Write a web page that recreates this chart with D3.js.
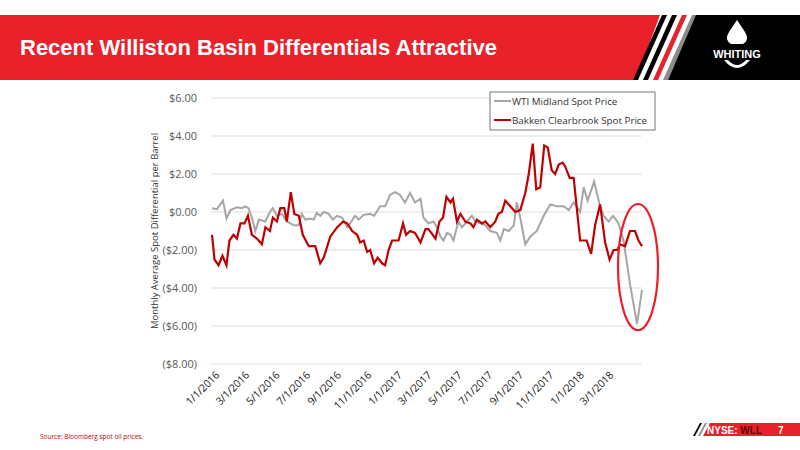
<!DOCTYPE html>
<html><head><meta charset="utf-8">
<script src="https://cdn.jsdelivr.net/npm/d3@7"></script>
<style>body{margin:0;background:#fff}svg{display:block}</style>
</head><body>
<script>
// Data: days since 1/1/2016 and differential ($/bbl)
const wtiDays = [0,10,22,29,37,50,60,67,73,80,87,94,107,116,122,130,140,150,164,174,180,187,197,204,210,217,224,234,242,251,261,271,277,287,294,304,317,325,337,347,357,367,377,387,397,407,418,424,434,444,451,458,464,471,478,484,494,501,511,521,528,538,548,558,571,578,585,595,605,611,618,628,638,651,665,678,691,705,715,725,738,745,753,766,777,785,795,804,815,825,838,852,862];
const wtiVals = [0.2,0.15,0.6,-0.35,0.1,0.25,0.2,0.3,0.2,-0.3,-1.0,-0.4,-0.5,0,0.2,-0.2,-0.1,-0.5,-0.7,-0.7,-0.1,-0.4,-0.35,-0.4,-0.05,-0.2,0,-0.1,-0.4,-0.2,-0.3,-0.8,-0.6,-0.2,-0.4,-0.15,-0.1,-0.2,0.3,0.3,0.9,1.05,0.9,0.5,1.0,0.5,0.7,-0.3,-0.6,-0.5,-0.8,-1.3,-1.5,-1.1,-1.2,-1.5,-0.5,-0.8,-0.5,-0.2,-0.5,-0.6,-0.7,-1.0,-1.1,-1.5,-0.9,-1.0,-0.7,0.5,-0.3,-1.7,-1.3,-1.0,-0.2,0.4,0.3,0.3,0.1,0.5,0,1.3,0.6,1.6,0.4,-0.2,-0.5,-0.2,-0.6,-1.5,-3.8,-5.9,-4.1];
const bakDays = [0,5,13,21,29,35,43,50,57,65,72,80,90,100,107,116,122,130,137,145,150,158,165,174,182,194,207,217,224,237,251,263,271,281,291,297,304,311,317,325,332,341,347,354,361,374,383,389,397,407,418,428,434,448,456,463,470,478,483,491,498,508,518,524,531,541,548,558,568,574,581,588,598,608,618,628,635,643,650,658,666,673,681,688,695,703,708,717,725,738,751,760,768,778,788,797,805,812,818,828,838,848,855,862];
const bakVals = [-1.2,-2.5,-2.8,-2.3,-2.8,-1.5,-1.2,-1.4,-0.6,-0.6,-0.2,-1.2,-1.4,-1.7,-0.8,-1.0,-0.3,-0.5,0.2,0.2,-0.5,1.05,-0.1,-0.2,-1.2,-1.8,-1.8,-2.7,-2.4,-1.3,-0.8,-0.5,-0.6,-1.0,-1.2,-1.6,-1.5,-2.1,-2.0,-2.7,-2.4,-2.7,-2.8,-2.0,-1.5,-1.5,-0.6,-1.2,-1.0,-1.1,-1.6,-0.9,-0.9,-1.4,-0.5,-0.3,0.8,0.5,0.7,-0.5,-0.1,-0.5,-0.6,-0.8,-0.4,-0.6,-0.5,-0.8,-0.5,-0.1,0.0,0.6,0.3,0.0,0.1,1.0,2.0,3.6,1.2,1.3,3.5,3.4,2.2,2.0,2.5,2.6,2.4,1.8,1.8,-1.5,-1.5,-2.2,-0.7,0.4,-1.6,-2.5,-2.0,-2.0,-1.7,-1.8,-1.0,-1.0,-1.5,-1.8];
const yTicks = [6,4,2,0,-2,-4,-6,-8];
const xTickLabels = ["1/1/2016","3/1/2016","5/1/2016","7/1/2016","9/1/2016","11/1/2016","1/1/2017","3/1/2017","5/1/2017","7/1/2017","9/1/2017","11/1/2017","1/1/2018","3/1/2018"];
const seriesNames = ["WTI Midland Spot Price","Bakken Clearbrook Spot Price"];
const colors = ["#a6a6a6","#c00000"];

const W=800,H=450;
const svg=d3.select("body").append("svg").attr("width",W).attr("height",H);
const base=new Date(2016,0,1);
const toDate=d=>d3.timeDay.offset(base,d);
const pd=s=>{const [m,d,y]=s.split("/").map(Number);return new Date(y,m-1,d);};

// Header
svg.append("rect").attr("x",0).attr("y",15).attr("width",700).attr("height",65).attr("fill","#e8212b");
svg.append("polygon").attr("points","660,15 800,15 800,80 636,80").attr("fill","#fff");
[[662,"#000"],[672,"#000"],[682,"#e8212b"],[692,"#8c8c8c"]].forEach(([x,c])=>{
  svg.append("polygon").attr("points",`${x},15 ${x+5},15 ${x-24},80 ${x-29},80`).attr("fill",c);
});
svg.append("polygon").attr("points","696,15 800,15 800,80 668,80").attr("fill","#000");
svg.append("text").attr("x",20).attr("y",55).attr("fill","#fff").attr("font-family","Liberation Sans, Arial").attr("font-weight","bold").attr("font-size",22).text("Recent Williston Basin Differentials Attractive");
// logo
svg.append("path").attr("d","M737,20 L745,32 Q750,40 743,44 L731,44 Q724,40 729,32 Z").attr("fill","#fff");
svg.append("path").attr("d","M724,60 Q737,76 750,60 L746,60 Q737,70 728,60 Z").attr("fill","#fff");
svg.append("text").attr("x",737).attr("y",58).attr("text-anchor","middle").attr("fill","#fff").attr("font-family","Liberation Sans, Arial").attr("font-weight","bold").attr("font-size",11).text("WHITING");

// Chart
const x=d3.scaleTime().domain([pd("1/1/2016"),toDate(862)]).range([212,642]);
const y=d3.scaleLinear().domain([-8,6]).range([364,98]);
const font="Open Sans, Liberation Sans, sans-serif";
const g=svg.append("g");
g.selectAll(".grid").data(yTicks).enter().append("line").attr("x1",211).attr("x2",642).attr("y1",d=>y(d)).attr("y2",d=>y(d)).attr("stroke","#e0e0e0").attr("stroke-width",1);
const fmt=d=>d<0?`($${Math.abs(d).toFixed(2)})`:`$${d.toFixed(2)}`;
g.selectAll(".yl").data(yTicks).enter().append("text").attr("x",197).attr("y",d=>y(d)+4).attr("text-anchor","end").attr("font-family",font).attr("font-size",11).attr("fill","#595959").text(fmt);
g.selectAll(".xl").data(xTickLabels).enter().append("text")
 .attr("transform",d=>`translate(${x(pd(d))+8},${376}) rotate(-45)`).attr("text-anchor","end")
 .attr("font-family",font).attr("font-size",10.5).attr("letter-spacing",-0.2).attr("fill","#222").text(d=>d);
svg.append("text").attr("transform","translate(158,231) rotate(-90)").attr("text-anchor","middle").attr("font-family",font).attr("font-size",9.5).attr("fill","#333").text("Monthly Average Spot Differential per Barrel");

const line=d3.line().x(d=>x(toDate(d[0]))).y(d=>y(d[1]));
g.append("path").datum(wtiDays.map((d,i)=>[d,wtiVals[i]])).attr("d",line).attr("fill","none").attr("stroke",colors[0]).attr("stroke-width",2);
g.append("path").datum(bakDays.map((d,i)=>[d,bakVals[i]])).attr("d",line).attr("fill","none").attr("stroke",colors[1]).attr("stroke-width",2.2);

// legend
svg.append("rect").attr("x",490).attr("y",92).attr("width",165).attr("height",38).attr("fill","#fff").attr("stroke","#777");
seriesNames.forEach((n,i)=>{
  const yy=101+i*19;
  svg.append("line").attr("x1",494).attr("x2",511).attr("y1",yy).attr("y2",yy).attr("stroke",colors[i]).attr("stroke-width",2);
  svg.append("text").attr("x",512).attr("y",yy+4).attr("font-family",font).attr("font-size",9.8).attr("fill","#333").text(n);
});
// highlight ellipse
svg.append("ellipse").attr("cx",638).attr("cy",267).attr("rx",20).attr("ry",63).attr("fill","none").attr("stroke","#e8212b").attr("stroke-width",2.2);

// footer
svg.append("text").attr("x",40).attr("y",439).attr("font-family",font).attr("font-size",6.5).attr("fill","#c00000").text("Source: Bloomberg spot oil prices.");
[[693,"#000"],[698,"#8c8c8c"]].forEach(([x0,c])=>svg.append("polygon").attr("points",`${x0+7},423 ${x0+9},423 ${x0+2},436 ${x0},436`).attr("fill",c));
svg.append("polygon").attr("points","710,423 800,423 800,436 703,436").attr("fill","#e8212b");
svg.append("text").attr("x",707).attr("y",434).attr("font-family","Liberation Sans, Arial").attr("font-weight","bold").attr("font-size",10).attr("fill","#fff").text("NYSE:").append("tspan").attr("fill","#5a0000").text(" WLL");
svg.append("text").attr("x",778).attr("y",434).attr("font-family","Liberation Sans, Arial").attr("font-weight","bold").attr("font-size",10).attr("fill","#fff").text("7");
</script>
</body></html>
